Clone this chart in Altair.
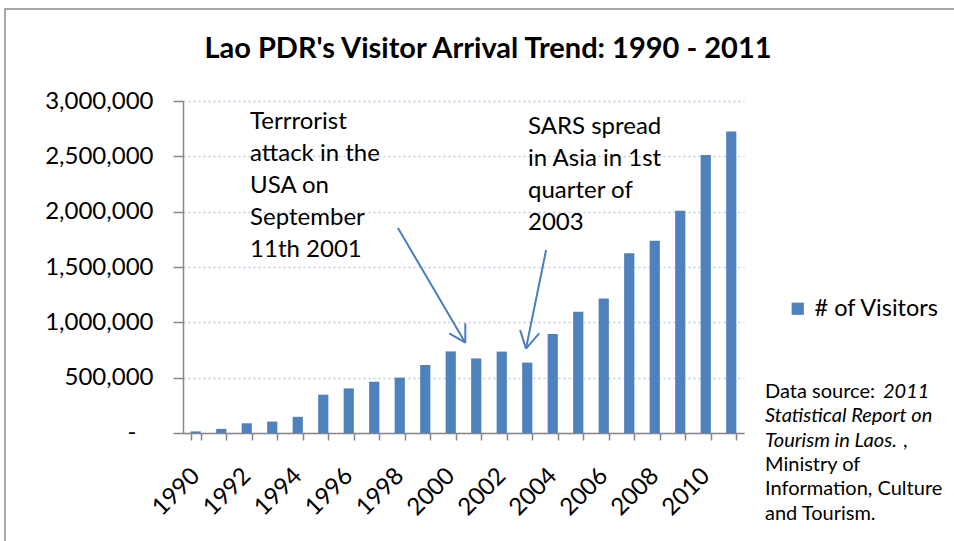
import altair as alt
import pandas as pd

# Visitor arrivals to Lao PDR, 1990-2011
years = [str(y) for y in range(1990, 2012)]
visitors = [14400, 37613, 87571, 102946, 146155, 346460, 403000, 463200,
            500200, 614278, 737208, 673823, 735662, 636361, 894806, 1095315,
            1215106, 1623943, 1736787, 2008363, 2513028, 2723564]
series_name = "# of Visitors"
y_ticks = [0, 500000, 1000000, 1500000, 2000000, 2500000, 3000000]
title_text = "Lao PDR's Visitor Arrival Trend: 1990 - 2011"

note_911 = ["Terrrorist", "attack  in the", "USA on", "September", "11th 2001"]
note_sars = ["SARS spread", "in Asia in 1st", "quarter of", "2003"]

# arrow segments (shaft + two wings) in year / visitor units
arrow_x = [1997.93, 2000.57, 2000.57, 2003.74, 2002.95, 2002.95]
arrow_y = [1852000, 816000, 816000, 1654000, 762000, 762000]
arrow_x2 = [2000.57, 1999.94, 2000.57, 2002.95, 2002.72, 2003.47]
arrow_y2 = [816000, 901000, 991000, 762000, 931000, 901000]

FONT = "Lato"
BLUE = "#4F81BD"
AXIS_GREY = "#868686"

W, H = 561, 332
PAD_L, PAD_T = 183, 101

bars_df = pd.DataFrame({"year": years, "visitors": visitors, "series": series_name})
arrows_df = pd.DataFrame({"x": arrow_x, "y": arrow_y, "x2": arrow_x2, "y2": arrow_y2})

y_scale = alt.Scale(domain=[0, 3000000], nice=False)

bars = alt.Chart(bars_df).mark_bar(color=BLUE).encode(
    x=alt.X("year:O", title=None,
            scale=alt.Scale(paddingInner=0.6, paddingOuter=0.3),
            axis=alt.Axis(
                labelExpr="toNumber(datum.value) % 2 == 0 ? datum.value : ''",
                labelAngle=-45, labelAlign="right", labelBaseline="middle",
                labelFontSize=24, labelFont=FONT, labelColor="black",
                labelPadding=32, labelOverlap=False,
                tickBand="extent", tickSize=7, tickColor=AXIS_GREY, tickWidth=1.5,
                domainColor=AXIS_GREY, domainWidth=1.5, grid=False)),
    y=alt.Y("visitors:Q", title=None, scale=y_scale,
            axis=alt.Axis(
                values=y_ticks,
                labelExpr="datum.value == 0 ? '' : format(datum.value, ',')",
                labelFontSize=24, labelFont=FONT, labelColor="black",
                labelPadding=20, tickSize=10, tickColor=AXIS_GREY, tickWidth=1.5,
                domainColor=AXIS_GREY, domainWidth=1.5,
                grid=True, gridColor="#B9CDE5", gridDash=[2, 3], gridWidth=1.5)),
    color=alt.Color("series:N", scale=alt.Scale(range=[BLUE]),
                    legend=alt.Legend(title=None, orient="none",
                                      legendX=603, legendY=196,
                                      symbolType="square", symbolSize=150,
                                      symbolStrokeWidth=0, labelFont=FONT,
                                      labelFontSize=23.5, labelColor="black",
                                      labelOffset=5, padding=0)),
)

# Annotation layer on a continuous year axis spanning the same bands
xq = alt.Scale(domain=[1989.5, 2011.5], nice=False, zero=False)

arrows = alt.Chart(arrows_df).mark_rule(color="#4A7EBB", strokeWidth=2).encode(
    x=alt.X("x:Q", scale=xq, axis=None),
    y=alt.Y("y:Q", scale=y_scale),
    x2="x2:Q", y2="y2:Q",
)

anno_base = alt.Chart(pd.DataFrame({"k": [0]}))

text_911 = anno_base.mark_text(text=note_911, align="left", baseline="top",
                               font=FONT, fontSize=24, lineHeight=32,
                               color="black").encode(
    x=alt.X(datum=1992.13, type="quantitative", scale=xq, axis=None),
    y=alt.Y(datum=2920000, type="quantitative", scale=y_scale))

text_sars = anno_base.mark_text(text=note_sars, align="left", baseline="top",
                                font=FONT, fontSize=24, lineHeight=32,
                                color="black").encode(
    x=alt.X(datum=2003.03, type="quantitative", scale=xq, axis=None),
    y=alt.Y(datum=2870000, type="quantitative", scale=y_scale))

zero_dash = anno_base.mark_text(text="-", font=FONT, fontSize=24,
                                color="black").encode(
    x=alt.value(-51),
    y=alt.Y(datum=0, type="quantitative", scale=y_scale))

# Chart title, centred over the chart area
title_mark = anno_base.mark_text(text=title_text, font=FONT, fontSize=29,
                                 fontWeight="bold", color="black",
                                 align="center", baseline="alphabetic").encode(
    x=alt.value(488 - PAD_L), y=alt.value(58 - PAD_T))

# Source note at the right of the plot
src_x = 765 - PAD_L
src_rows = [
    ("Data source: ", "normal", 0, 0),
    ("2011", "italic", 118, 0),
    ("Statistical Report on", "italic", 0, 1),
    ("Tourism in Laos.", "italic", 0, 2),
    (",", "normal", 138, 2),
    ("Ministry of", "normal", 0, 3),
    ("Information, Culture", "normal", 0, 4),
    ("and Tourism.", "normal", 0, 5),
]
src_layers = []
for txt, style, dx, line in src_rows:
    src_layers.append(
        anno_base.mark_text(text=txt, align="left", baseline="alphabetic",
                            font=FONT, fontSize=20, fontStyle=style,
                            color="black").encode(
            x=alt.value(src_x + dx),
            y=alt.value(398 - PAD_T + line * 24.3)))

frame = anno_base.mark_rect(fill=None, stroke="#8C8C8C", strokeWidth=1.5).encode(
    x=alt.value(5 - PAD_L), y=alt.value(9 - PAD_T),
    x2=alt.value(980), y2=alt.value(600))

chart = alt.layer(
    frame, bars, arrows, text_911, text_sars, zero_dash, title_mark, *src_layers
).resolve_scale(x="independent").properties(
    width=W, height=H,
    autosize=alt.AutoSizeParams(type="none"),
    padding={"left": PAD_L, "top": PAD_T, "right": 954 - PAD_L - W,
             "bottom": 541 - PAD_T - H},
    background="white",
).configure_view(stroke=None)

chart.save("out.html", embed_options={"renderer": "svg", "actions": False})
